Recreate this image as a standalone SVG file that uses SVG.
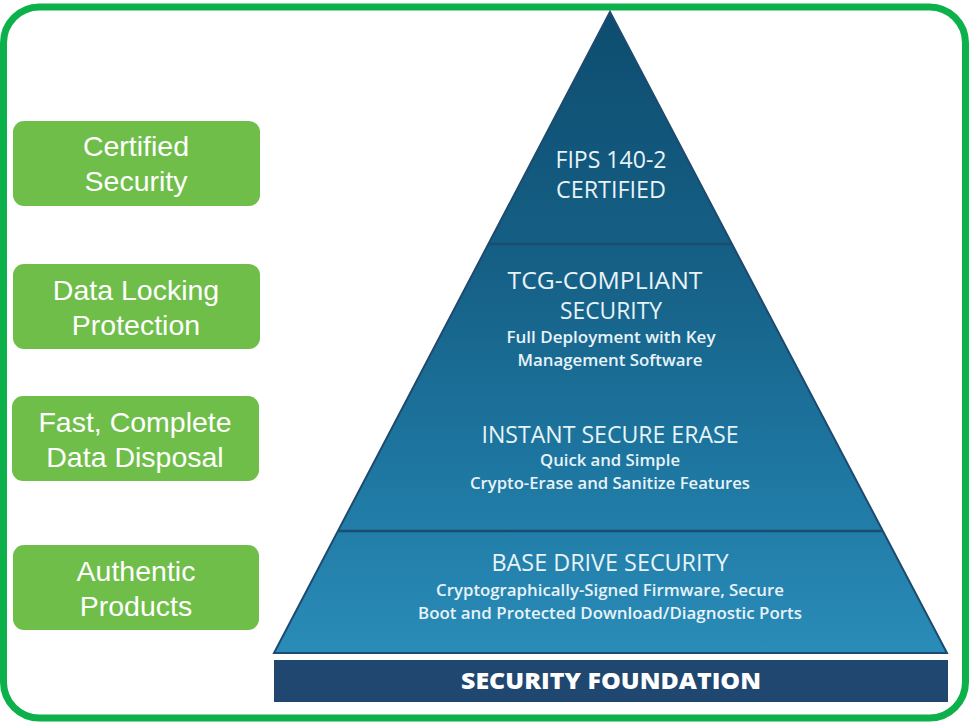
<svg xmlns="http://www.w3.org/2000/svg" width="971" height="722" viewBox="0 0 971 722">
  <style>
    .frame { fill: #ffffff; stroke: #0db14b; stroke-width: 7; }
    .badge rect { fill: #6fbe4a; }
    .badge text { font-family: "Liberation Sans", Arial, sans-serif; font-size: 28.5px; fill: #ffffff; text-anchor: middle; }
    .tier text { font-family: "Open Sans", "Noto Sans", sans-serif; fill: #e8f3f8; text-anchor: middle; }
    .head { font-size: 23px; }
    .sub { font-size: 16.5px; font-weight: 600; }
    .band-line { stroke: #1b4d72; stroke-width: 2.5; }
    .base-label { font-family: "Open Sans", "Noto Sans", sans-serif; font-size: 23px; font-weight: 800; fill: #ffffff; text-anchor: middle; }
  </style>
  <defs>
    <linearGradient id="pyrFill" x1="0" y1="12" x2="0" y2="653" gradientUnits="userSpaceOnUse">
      <stop offset="0" stop-color="#0d4d6f"/>
      <stop offset="0.4" stop-color="#166086"/>
      <stop offset="0.7" stop-color="#1d76a0"/>
      <stop offset="1" stop-color="#2a8cb8"/>
    </linearGradient>
  </defs>

  <!-- outer rounded frame -->
  <rect class="frame" x="3.5" y="7" width="962" height="711" rx="36"/>

  <!-- pyramid body -->
  <g id="pyramid">
    <polygon points="610,12 947,653 274,653" fill="url(#pyrFill)" stroke="#1d4a6e" stroke-width="2"/>
    <line class="band-line" x1="488" y1="244" x2="732" y2="244"/>
    <line class="band-line" x1="338" y1="531" x2="883" y2="531"/>
  </g>

  <g id="tier-fips" class="tier">
    <text class="head" x="611" y="168" textLength="111" lengthAdjust="spacingAndGlyphs">FIPS 140-2</text>
    <text class="head" x="611" y="198" textLength="110" lengthAdjust="spacingAndGlyphs">CERTIFIED</text>
  </g>

  <g id="tier-tcg" class="tier">
    <text class="head" x="605" y="289" textLength="195" lengthAdjust="spacingAndGlyphs">TCG-COMPLIANT</text>
    <text class="head" x="611" y="319" textLength="102" lengthAdjust="spacingAndGlyphs">SECURITY</text>
    <text class="sub" x="611" y="343" textLength="209" lengthAdjust="spacingAndGlyphs">Full Deployment with Key</text>
    <text class="sub" x="610" y="366" textLength="185" lengthAdjust="spacingAndGlyphs">Management Software</text>
  </g>

  <g id="tier-erase" class="tier">
    <text class="head" x="610" y="443" textLength="257" lengthAdjust="spacingAndGlyphs">INSTANT SECURE ERASE</text>
    <text class="sub" x="610" y="466" textLength="140" lengthAdjust="spacingAndGlyphs">Quick and Simple</text>
    <text class="sub" x="610" y="489" textLength="280" lengthAdjust="spacingAndGlyphs">Crypto-Erase and Sanitize Features</text>
  </g>

  <g id="tier-base" class="tier">
    <text class="head" x="610" y="571" textLength="237" lengthAdjust="spacingAndGlyphs">BASE DRIVE SECURITY</text>
    <text class="sub" x="610" y="596" textLength="348" lengthAdjust="spacingAndGlyphs">Cryptographically-Signed Firmware, Secure</text>
    <text class="sub" x="610" y="619" textLength="384" lengthAdjust="spacingAndGlyphs">Boot and Protected Download/Diagnostic Ports</text>
  </g>

  <g id="foundation">
    <rect x="274" y="660" width="674" height="42" fill="#1f4770"/>
    <text class="base-label" x="611" y="689" textLength="300" lengthAdjust="spacingAndGlyphs">SECURITY FOUNDATION</text>
  </g>

  <!-- benefit badges -->
  <g id="badge-certified" class="badge">
    <rect x="13" y="121" width="247" height="85" rx="11"/>
    <text x="136" y="156">Certified</text>
    <text x="136" y="191">Security</text>
  </g>
  <g id="badge-locking" class="badge">
    <rect x="13" y="264" width="247" height="85" rx="11"/>
    <text x="136" y="300">Data Locking</text>
    <text x="136" y="335">Protection</text>
  </g>
  <g id="badge-disposal" class="badge">
    <rect x="12" y="396" width="247" height="85" rx="11"/>
    <text x="135" y="432">Fast, Complete</text>
    <text x="135" y="467">Data Disposal</text>
  </g>
  <g id="badge-authentic" class="badge">
    <rect x="13" y="545" width="246" height="85" rx="11"/>
    <text x="136" y="581">Authentic</text>
    <text x="136" y="616">Products</text>
  </g>

  <g id="connectors"></g>
</svg>
